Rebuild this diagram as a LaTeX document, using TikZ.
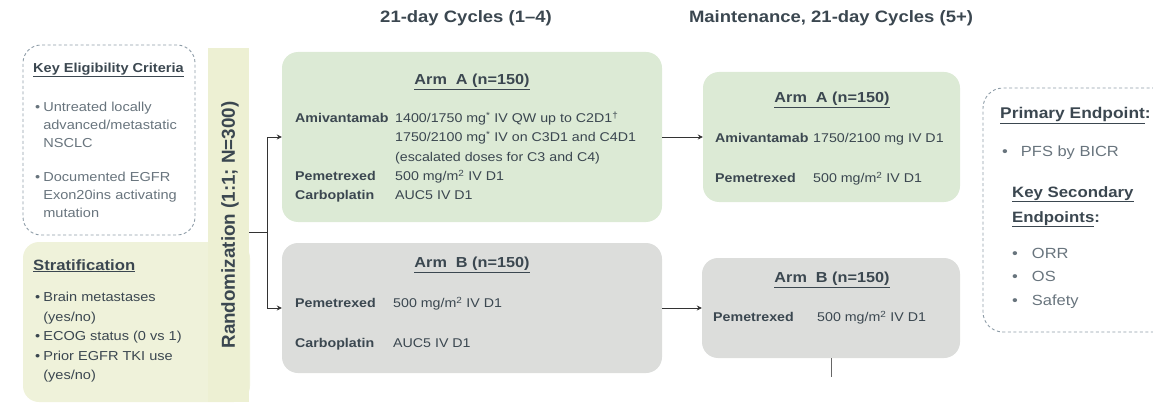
\documentclass[tikz,border=0pt]{standalone}
\usepackage{fontspec}
\setmainfont[FakeStretch=1.12]{Liberation Sans}
\newfontfamily\randfont{Liberation Sans}
\usetikzlibrary{arrows.meta}
\definecolor{ink}{HTML}{3B4750}
\definecolor{softink}{HTML}{68747D}
\definecolor{armgreen}{HTML}{DCEAD5}
\definecolor{armgrey}{HTML}{DCDDDB}
\definecolor{stratfill}{HTML}{EFF2DA}
\definecolor{randfill}{HTML}{EDF0D3}
\definecolor{dashgrey}{HTML}{8D9CA7}

\begin{document}
\begin{tikzpicture}[x=1pt,y=-1pt,>={Stealth[length=5pt,width=5pt]},
  armbox/.style={rounded corners=16pt,inner sep=0pt},
  dashbox/.style={draw=dashgrey,dash pattern=on 3pt off 2.5pt,line width=0.9pt,rounded corners=18pt,inner sep=0pt},
  hdr/.style={font=\fontsize{16.5}{20}\selectfont\bfseries,text=ink},
  armtitle/.style={font=\fontsize{14.5}{18}\selectfont\bfseries,text=ink},
  dose/.style={anchor=base west,inner sep=0pt,text=ink,font=\fontsize{12.7}{19.3}\selectfont},
  listtext/.style={anchor=base west,inner sep=0pt,font=\fontsize{13}{18}\selectfont},
  link/.style={draw=black!80,line width=0.8pt}]
  \useasboundingbox (0,0) rectangle (1153,406);
  \clip (0,0) rectangle (1153,406);

  % headers
  \node[hdr] (hdrcyc) at (466,18) {21-day Cycles (1--4)};
  \node[hdr] (hdrmain) at (831,18) {Maintenance, 21-day Cycles (5+)};

  % left column
  \node[dashbox,minimum width=172,minimum height=190] (elig) at (109,140) {};
  \node[armbox,fill=stratfill,minimum width=227,minimum height=160] (strat) at (136.5,322) {};
  \node[fill=randfill,inner sep=0pt,minimum width=41,minimum height=354] (randbar) at (228.5,225) {};
  \node[rotate=90,text=ink,font=\randfont\fontsize{18.8}{20}\selectfont\bfseries] (randtxt) at (230,225) {Randomization (1:1; N=300)};

  \node[listtext,text=ink,font=\fontsize{13}{18}\selectfont\bfseries] (eligtitle) at (33,72.5) {\underline{Key Eligibility Criteria}};
  \node[listtext,text=softink] (eliglist) at (35,111.5) {\begin{tabular}[t]{@{}l@{\hspace{3pt}}l@{}}
    \textbullet & Untreated locally\\
     & advanced/metastatic\\
     & NSCLC\\[16pt]
    \textbullet & Documented EGFR\\
     & Exon20ins activating\\
     & mutation
  \end{tabular}};

  \node[listtext,text=ink,font=\fontsize{14.9}{18}\selectfont\bfseries] (strattitle) at (33,270) {\underline{Stratification}};
  \node[listtext,text=ink,font=\fontsize{13}{19.5}\selectfont] (stratlist) at (35,301.5) {\begin{tabular}[t]{@{}l@{\hspace{3pt}}l@{}}
    \textbullet & Brain metastases\\
     & (yes/no)\\
    \textbullet & ECOG status (0 vs 1)\\
    \textbullet & Prior EGFR TKI use\\
     & (yes/no)
  \end{tabular}};

  % cycles 1-4
  \node[armbox,fill=armgreen,minimum width=380,minimum height=170] (armA) at (472,137) {};
  \node[armtitle] (armAtitle) at (472,82) {\underline{Arm\ \ A (n=150)}};
  \node[dose] (armAdose) at (295,122.5) {\begin{tabular}[t]{@{}p{100pt}@{}l@{}}
    \textbf{Amivantamab} & 1400/1750 mg\textsuperscript{*} IV QW up to C2D1\textsuperscript{\textdagger}\\
     & 1750/2100 mg\textsuperscript{*} IV on C3D1 and C4D1\\
     & (escalated doses for C3 and C4)\\
    \textbf{Pemetrexed} & 500 mg/m\textsuperscript{2} IV D1\\
    \textbf{Carboplatin} & AUC5 IV D1
  \end{tabular}};

  \node[armbox,fill=armgrey,minimum width=380,minimum height=130] (armB) at (472,308) {};
  \node[armtitle] (armBtitle) at (472,265) {\underline{Arm\ \ B (n=150)}};
  \node[dose] (armBdose) at (295,307.5) {\begin{tabular}[t]{@{}p{98pt}@{}l@{}}
    \textbf{Pemetrexed} & 500 mg/m\textsuperscript{2} IV D1\\[20.7pt]
    \textbf{Carboplatin} & AUC5 IV D1
  \end{tabular}};

  % maintenance
  \node[armbox,fill=armgreen,minimum width=257,minimum height=130] (mainA) at (831.5,137) {};
  \node[armtitle] (mainAtitle) at (832,100) {\underline{Arm\ \ A (n=150)}};
  \node[dose] (mainAdose) at (715,142.5) {\begin{tabular}[t]{@{}p{98pt}@{}l@{}}
    \textbf{Amivantamab} & 1750/2100 mg IV D1\\[20.7pt]
    \textbf{Pemetrexed} & 500 mg/m\textsuperscript{2} IV D1
  \end{tabular}};

  \node[armbox,fill=armgrey,minimum width=258,minimum height=100] (mainB) at (831,308) {};
  \node[armtitle] (mainBtitle) at (832,280) {\underline{Arm\ \ B (n=150)}};
  \node[dose] (mainBdose) at (713,321.5) {\begin{tabular}[t]{@{}p{104pt}@{}l@{}}
    \textbf{Pemetrexed} & 500 mg/m\textsuperscript{2} IV D1
  \end{tabular}};

  % endpoints
  \node[dashbox,rounded corners=20pt,minimum width=192,minimum height=244] (endpts) at (1079,210) {};
  \node[listtext,text=ink,font=\fontsize{15.5}{19}\selectfont\bfseries] (primtitle) at (1000,118.5) {\underline{Primary Endpoint}:};
  \node[listtext,text=softink,font=\fontsize{14.7}{19}\selectfont] (primlist) at (1002,157) {\textbullet\hspace{13pt}PFS by BICR};
  \node[listtext,text=ink,font=\fontsize{15}{25}\selectfont\bfseries] (sectitle) at (1012,197) {\begin{tabular}[t]{@{}l@{}}
    \underline{Key Secondary}\\
    \underline{Endpoints}:
  \end{tabular}};
  \node[listtext,text=softink,font=\fontsize{14.7}{23.5}\selectfont] (seclist) at (1012,258) {\begin{tabular}[t]{@{}l@{\hspace{14pt}}l@{}}
    \textbullet & ORR\\
    \textbullet & OS\\
    \textbullet & Safety
  \end{tabular}};

  % connectors
  \coordinate (split) at (267,232);
  \draw[link] (randbar.east |- split) -- (split);
  \draw[link,->] (split) |- (armA.west);
  \draw[link,->] (split) |- (armB.west);
  \path[link,->] (armA) edge (mainA)
                 (armB) edge (mainB);
  \draw[link,draw=black!60] (mainB.south) -- ++(0,19);
\end{tikzpicture}
\end{document}
